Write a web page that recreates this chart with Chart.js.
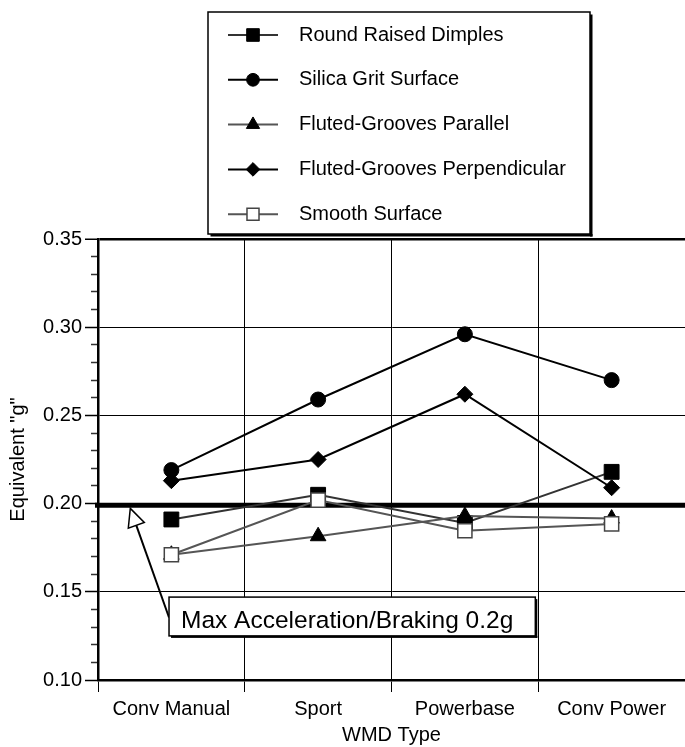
<!DOCTYPE html>
<html><head><meta charset="utf-8">
<script src="https://cdn.jsdelivr.net/npm/chart.js@4"></script>
<style>html,body{margin:0;padding:0;background:#fff;overflow:hidden}</style>
</head><body>
<canvas id="c" width="685" height="747" style="display:block;width:685px;height:747px"></canvas>
<script>
// ---- data ----
const categories = ['Conv Manual', 'Sport', 'Powerbase', 'Conv Power'];
const seriesNames = ['Round Raised Dimples', 'Silica Grit Surface', 'Fluted-Grooves Parallel', 'Fluted-Grooves Perpendicular', 'Smooth Surface'];
const roundRaisedDimples = [0.191, 0.205, 0.189, 0.218];
const silicaGritSurface = [0.219, 0.259, 0.296, 0.270];
const flutedParallel = [0.171, 0.1815, 0.193, 0.1915];
const flutedPerpendicular = [0.213, 0.225, 0.262, 0.209];
const smoothSurface = [0.171, 0.202, 0.1846, 0.1885];
const yTickValues = [0.10, 0.15, 0.20, 0.25, 0.30, 0.35];
const yTickLabels = ['0.10', '0.15', '0.20', '0.25', '0.30', '0.35'];
const yMinorStep = 0.01;
const limitValue = 0.199;
const annotationText = 'Max Acceleration/Braking 0.2g';
const xTitle = 'WMD Type';
const yTitle = 'Equivalent "g"';

const FONT = "'Liberation Sans', Arial, Helvetica, sans-serif";

function isMajor(v) {
  return yTickValues.some(t => Math.abs(t - v) < 1e-6);
}

const refLinePlugin = {
  id: 'refLine',
  beforeDatasetsDraw(chart) {
    const {ctx, chartArea, scales} = chart;
    const y = scales.y.getPixelForValue(limitValue);
    ctx.save();
    ctx.strokeStyle = '#000';
    ctx.lineWidth = 5;
    ctx.beginPath();
    ctx.moveTo(chartArea.left - 3, y);
    ctx.lineTo(chartArea.right, y);
    ctx.stroke();
    ctx.restore();
  }
};

function shadowBox(ctx, l, t, r, b, sh) {
  ctx.fillStyle = '#fff';
  ctx.fillRect(l, t, r - l, b - t);
  ctx.fillStyle = '#000';
  ctx.fillRect(r, t + sh, sh, b - t);
  ctx.fillRect(l + sh, b, r - l, sh);
  ctx.strokeStyle = '#000';
  ctx.lineWidth = 1.5;
  ctx.strokeRect(l, t, r - l, b - t);
}

const overlayPlugin = {
  id: 'overlay',
  afterDraw(chart) {
    const {ctx, scales} = chart;
    ctx.save();
    // ---- legend ----
    const L = 208, T = 12, R = 590, B = 234;
    shadowBox(ctx, L, T, R, B, 2.5);
    const rowGap = 44.8;
    chart.data.datasets.forEach((ds, i) => {
      const cy = 35 + i * rowGap;
      ctx.strokeStyle = ds.borderColor;
      ctx.lineWidth = ds.borderWidth;
      ctx.beginPath();
      ctx.moveTo(228, cy);
      ctx.lineTo(278, cy);
      ctx.stroke();
      ctx.fillStyle = ds.pointBackgroundColor;
      ctx.strokeStyle = ds.pointBorderColor;
      ctx.lineWidth = ds.pointBorderWidth;
      Chart.helpers.drawPoint(ctx, {pointStyle: ds.pointStyle, rotation: 0, radius: ds.pointRadius * 0.85, borderWidth: ds.pointBorderWidth}, 253, cy);
      ctx.fillStyle = '#000';
      ctx.font = '20px ' + FONT;
      ctx.textBaseline = 'middle';
      ctx.textAlign = 'left';
      ctx.fillText(ds.label, 299, cy);
    });

    // ---- annotation ----
    const x0 = scales.x.getPixelForValue(0), x1 = scales.x.getPixelForValue(1);
    const step = x1 - x0;
    const tipX = x0 - 0.28 * step;
    const tipY = scales.y.getPixelForValue(limitValue) + 3;
    const bl = x0 - 0.016 * step, br = x0 + 2.48 * step;
    const bt = scales.y.getPixelForValue(0.147), bb = scales.y.getPixelForValue(0.125);
    const tailX = bl, tailY = (bt + bb) / 2 + 1;
    const dx = tipX - tailX, dy = tipY - tailY;
    const len = Math.hypot(dx, dy);
    const ux = dx / len, uy = dy / len;
    const headLen = 18, headHalf = 8.5;
    const baseX = tipX - ux * headLen, baseY = tipY - uy * headLen;
    ctx.strokeStyle = '#000';
    ctx.lineWidth = 2;
    ctx.beginPath();
    ctx.moveTo(tailX, tailY);
    ctx.lineTo(baseX, baseY);
    ctx.stroke();
    ctx.beginPath();
    ctx.moveTo(tipX, tipY);
    ctx.lineTo(baseX - uy * headHalf, baseY + ux * headHalf);
    ctx.lineTo(baseX + uy * headHalf, baseY - ux * headHalf);
    ctx.closePath();
    ctx.fillStyle = '#fff';
    ctx.fill();
    ctx.lineWidth = 1.5;
    ctx.stroke();
    shadowBox(ctx, bl, bt, br, bb, 2);
    ctx.fillStyle = '#000';
    ctx.font = '24.5px ' + FONT;
    ctx.textAlign = 'left';
    ctx.textBaseline = 'alphabetic';
    ctx.fillText(annotationText, bl + 12, bb - 8);
    ctx.restore();
  }
};

const ds = (label, data, opts) => Object.assign({
  label, data, fill: false, tension: 0, borderWidth: 2,
  pointBorderWidth: 1, pointHoverRadius: 0
}, opts);

new Chart(document.getElementById('c'), {
  type: 'line',
  data: {
    labels: categories,
    datasets: [
      ds(seriesNames[0], roundRaisedDimples, {borderColor: '#333', pointStyle: 'rect', pointRadius: 10.5, pointBackgroundColor: '#000', pointBorderColor: '#000', order: 5}),
      ds(seriesNames[1], silicaGritSurface, {borderColor: '#000', pointStyle: 'circle', pointRadius: 7.5, pointBackgroundColor: '#000', pointBorderColor: '#000', order: 4}),
      ds(seriesNames[2], flutedParallel, {borderColor: '#555', pointStyle: 'triangle', pointRadius: 9, pointBackgroundColor: '#000', pointBorderColor: '#000', order: 3}),
      ds(seriesNames[3], flutedPerpendicular, {borderColor: '#000', pointStyle: 'rectRot', pointRadius: 8, pointBackgroundColor: '#000', pointBorderColor: '#000', order: 2}),
      ds(seriesNames[4], smoothSurface, {borderColor: '#555', pointStyle: 'rect', pointRadius: 10, pointBackgroundColor: '#fff', pointBorderColor: '#444', pointBorderWidth: 1.5, order: 1})
    ]
  },
  options: {
    responsive: false,
    animation: false,
    events: [],
    layout: {autoPadding: false, padding: {top: 239, left: 0, right: -2, bottom: 0}},
    plugins: {legend: {display: false}, tooltip: {enabled: false}},
    scales: {
      x: {
        type: 'category',
        offset: true,
        grid: {offset: true, color: '#000', lineWidth: 1, tickLength: 12, tickColor: '#000', tickWidth: 1},
        border: {color: '#000', width: 2.5},
        ticks: {color: '#000', font: {family: FONT, size: 20}, padding: 5, maxRotation: 0, autoSkip: false},
        title: {display: true, text: xTitle, color: '#000', font: {family: FONT, size: 20}, padding: {top: 0, bottom: 0}},
        afterFit(s) { s.height = 67; s.paddingLeft = 0; s.paddingRight = 0; }
      },
      y: {
        type: 'linear',
        min: yTickValues[0],
        max: yTickValues[yTickValues.length - 1],
        afterBuildTicks(s) {
          const out = [];
          const n = Math.round((s.max - s.min) / yMinorStep);
          for (let i = 0; i <= n; i++) out.push({value: +(s.min + i * yMinorStep).toFixed(4)});
          s.ticks = out;
        },
        ticks: {
          color: '#000', font: {family: FONT, size: 20}, padding: 3, autoSkip: false,
          callback(v) {
            const i = yTickValues.findIndex(t => Math.abs(t - v) < 1e-6);
            return i >= 0 ? yTickLabels[i] : '';
          }
        },
        grid: {
          color: c => isMajor(c.tick.value) ? '#000' : 'rgba(0,0,0,0)',
          lineWidth: c => Math.abs(c.tick.value - yTickValues[yTickValues.length - 1]) < 1e-6 ? 2.5 : 1,
          tickColor: c => isMajor(c.tick.value) ? '#000' : '#333',
          tickLength: 13,
          tickWidth: 1.5,
          tickBorderDash: c => isMajor(c.tick.value) ? [] : [0, 6, 10, 100]
        },
        border: {color: '#000', width: 2.5},
        title: {display: true, text: yTitle, color: '#000', font: {family: FONT, size: 20}, padding: {top: 6, bottom: 0}},
        afterFit(s) { s.width = 98; s.paddingTop = 0; s.paddingBottom = 0; }
      }
    }
  },
  plugins: [refLinePlugin, overlayPlugin]
});
</script>
</body></html>
